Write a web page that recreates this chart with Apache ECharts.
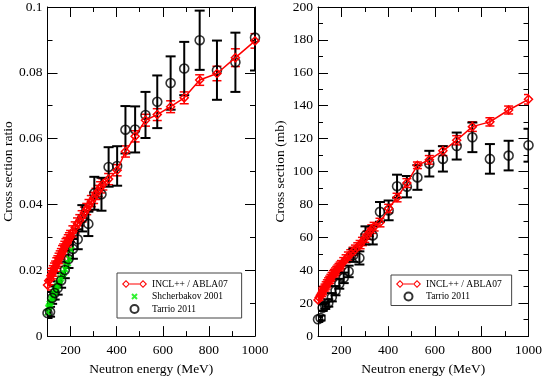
<!DOCTYPE html>
<html>
<head>
<meta charset="utf-8">
<title>INCL++ / ABLA07 vs data</title>
<script src="https://cdn.jsdelivr.net/npm/echarts@6/dist/echarts.min.js"></script>
<style>
  html, body { margin: 0; padding: 0; background: #fff; }
  #chart { width: 545px; height: 381px; }
</style>
</head>
<body>
<div id="chart"></div>
<script>
// Tarrio 2011 (both panels use the same energies)
const tarrioE = [100, 111, 120, 131, 144, 159, 175, 191, 210, 231, 251, 277, 303, 334, 365, 402, 438, 480, 525, 576, 634, 693, 760, 835, 915, 1000]
const tarrioRatio = [0.0070, 0.0074, 0.0116, 0.0131, 0.0146, 0.0169, 0.0201, 0.0234, 0.0265, 0.0294, 0.0358, 0.0341, 0.0434, 0.0431, 0.0514, 0.0517, 0.0627, 0.0628, 0.0672, 0.0712, 0.0769, 0.0813, 0.0899, 0.0808, 0.0832, 0.0907]
const tarrioRatioErr = [0.0015, 0.0015, 0.0018, 0.002, 0.002, 0.0022, 0.0025, 0.0027, 0.003, 0.003, 0.004, 0.0037, 0.005, 0.005, 0.006, 0.006, 0.0072, 0.007, 0.007, 0.008, 0.0081, 0.0081, 0.009, 0.009, 0.009, 0.010]
const tarrioXs = [10.2, 11.0, 17.3, 18.5, 20.1, 23.6, 27.6, 31.8, 35.4, 39.3, 49.1, 47.5, 61.2, 61.2, 75.5, 76.4, 91.1, 90.8, 96.4, 104.8, 107.7, 115.5, 120.8, 107.7, 109.7, 116.0]
const tarrioXsErr = [1.5, 1.5, 2, 2, 2.2, 2.5, 2.8, 3, 3.2, 3.5, 4, 4, 5.5, 5.5, 6, 6, 7, 6.5, 7.5, 7.8, 7.7, 8.2, 9, 9, 9, 10]

// Shcherbakov 2001 (ratio only)
const shchE = [101, 104, 107, 110, 113, 117, 121, 125, 129, 133, 138, 143, 148, 153, 158, 164, 170, 176, 182, 188, 195, 202]
const shchRatio = [0.0072, 0.0085, 0.0090, 0.0098, 0.0104, 0.0112, 0.0118, 0.0126, 0.0132, 0.0138, 0.0146, 0.0152, 0.0160, 0.0168, 0.0176, 0.0184, 0.0192, 0.0203, 0.0212, 0.0222, 0.0235, 0.0262]

// INCL++ / ABLA07
const inclE = [100, 105, 110, 115, 120, 125, 130, 135, 140, 145, 150, 155, 160, 165, 170, 175, 180, 185, 190, 195, 200, 210, 220, 230, 240, 250, 260, 270, 280, 290, 300, 310, 320, 330, 340, 365, 402, 438, 480, 525, 576, 634, 693, 760, 835, 915, 1000]
const inclRatio = [0.0155, 0.0168, 0.0172, 0.0183, 0.0190, 0.0198, 0.0207, 0.0212, 0.0222, 0.0228, 0.0236, 0.0243, 0.0250, 0.0258, 0.0264, 0.0272, 0.0279, 0.0284, 0.0291, 0.0297, 0.0304, 0.0318, 0.0330, 0.0342, 0.0352, 0.0364, 0.0375, 0.0386, 0.0398, 0.0410, 0.0420, 0.0432, 0.0441, 0.0452, 0.0461, 0.0477, 0.0504, 0.0561, 0.0607, 0.0656, 0.0673, 0.0697, 0.0724, 0.0778, 0.0798, 0.0846, 0.0897]
const inclRatioErr = [0.0015, 0.0015, 0.0016, 0.0015, 0.0016, 0.0016, 0.0015, 0.0016, 0.0016, 0.0016, 0.0016, 0.0016, 0.0016, 0.0017, 0.0016, 0.0016, 0.0017, 0.0016, 0.0017, 0.0017, 0.0017, 0.0017, 0.0017, 0.0017, 0.0017, 0.0017, 0.0017, 0.0017, 0.0017, 0.0017, 0.0017, 0.0017, 0.0017, 0.0017, 0.0017, 0.0017, 0.0017, 0.0017, 0.0017, 0.0018, 0.0018, 0.0018, 0.0018, 0.0016, 0.0022, 0.0027, 0.0022]
const inclXs = [22.0, 23.5, 24.8, 26.0, 27.2, 28.3, 29.5, 30.8, 32.0, 33.2, 34.2, 35.3, 36.3, 37.4, 38.2, 39.1, 40.0, 40.8, 41.7, 42.6, 43.5, 45.3, 47.0, 48.6, 50.0, 51.5, 52.8, 54.2, 55.6, 57.5, 59.5, 61.3, 63.2, 65.0, 66.5, 69.0, 77.5, 84.2, 93.0, 103.8, 107.1, 112.6, 119.0, 127.3, 130.2, 137.4, 143.9]
const inclXsErr = [2.0, 2.0, 2.1, 2.0, 2.1, 2.1, 2.1, 2.2, 2.2, 2.2, 2.2, 2.2, 2.3, 2.3, 2.3, 2.3, 2.3, 2.4, 2.4, 2.4, 2.4, 2.4, 2.4, 2.5, 2.5, 2.5, 2.5, 2.5, 2.5, 2.5, 2.5, 2.5, 2.6, 2.6, 2.6, 2.6, 2.6, 2.6, 2.7, 2.0, 2.6, 2.9, 2.8, 2.9, 2.5, 2.4, 2.9]

const xMajor = [200, 400, 600, 800, 1000]
const xMinor = [100, 300, 500, 700, 900]

const FONT = 'Liberation Serif'
const RED = '#ff0000'
const GREEN = '#00ee00'
const chart = echarts.init(document.getElementById('chart'))

function pairs (xs, ys) {
  return xs.map((x, i) => [x, ys[i]])
}
function bars (xs, ys, err) {
  return xs.map((x, i) => [x, ys[i] - err[i], ys[i] + err[i]])
}

function errorBars (name, data, color, capW, lw, xi, yi) {
  return {
    type: 'custom',
    name: name,
    xAxisIndex: xi,
    yAxisIndex: yi,
    clip: true,
    silent: true,
    data: data,
    renderItem: function (params, api) {
      let lo = api.coord([api.value(0), api.value(1)])
      let hi = api.coord([api.value(0), api.value(2)])
      let style = { stroke: color, lineWidth: lw, fill: null }
      return {
        type: 'group',
        children: [
          { type: 'line', shape: { x1: lo[0], y1: lo[1], x2: hi[0], y2: hi[1] }, style: style },
          { type: 'line', shape: { x1: lo[0] - capW / 2, y1: lo[1], x2: lo[0] + capW / 2, y2: lo[1] }, style: style },
          { type: 'line', shape: { x1: hi[0] - capW / 2, y1: hi[1], x2: hi[0] + capW / 2, y2: hi[1] }, style: style }
        ]
      }
    }
  }
}

// four x axes per panel: bottom/top, long ticks and short ticks
function xAxes (g) {
  let common = { type: 'value', gridIndex: g, min: 100, max: 1000, splitLine: { show: false } }
  return [
    Object.assign({}, common, {
      position: 'bottom',
      axisLine: { show: true, lineStyle: { color: '#000', width: 1 } },
      axisTick: { show: true, inside: true, length: 10, customValues: xMajor, lineStyle: { color: '#000' } },
      axisLabel: {
        show: true,
        customValues: xMajor,
        formatter: v => String(v),
        margin: 7,
        color: '#000',
        fontFamily: FONT,
        fontSize: 13.5
      },
      name: 'Neutron energy (MeV)',
      nameLocation: 'middle',
      nameGap: 21,
      nameTextStyle: { color: '#000', fontFamily: FONT, fontSize: 13.5 }
    }),
    Object.assign({}, common, {
      position: 'bottom',
      axisLine: { show: false },
      axisTick: { show: true, inside: true, length: 5, customValues: xMinor, lineStyle: { color: '#000' } },
      axisLabel: { show: false }
    }),
    Object.assign({}, common, {
      position: 'top',
      axisLine: { show: true, lineStyle: { color: '#000', width: 1 } },
      axisTick: { show: true, inside: true, length: 10, customValues: xMajor, lineStyle: { color: '#000' } },
      axisLabel: { show: false }
    }),
    Object.assign({}, common, {
      position: 'top',
      axisLine: { show: false },
      axisTick: { show: true, inside: true, length: 5, customValues: xMinor, lineStyle: { color: '#000' } },
      axisLabel: { show: false }
    })
  ]
}

function yAxes (g, max, interval, title) {
  let common = {
    type: 'value',
    gridIndex: g,
    min: 0,
    max: max,
    interval: interval,
    splitLine: { show: false },
    axisLine: { show: true, lineStyle: { color: '#000', width: 1 } },
    axisTick: { show: true, inside: true, length: 10, lineStyle: { color: '#000' } },
    minorTick: { show: true, splitNumber: 2, length: 5, lineStyle: { color: '#000' } }
  }
  return [
    Object.assign({}, common, {
      position: 'left',
      axisLabel: { margin: 5, color: '#000', fontFamily: FONT, fontSize: 13.5, formatter: v => String(v) },
      name: title,
      nameLocation: 'middle',
      nameGap: 31,
      nameTextStyle: { color: '#000', fontFamily: FONT, fontSize: 13.5 }
    }),
    Object.assign({}, common, {
      position: 'right',
      axisLabel: { show: false }
    })
  ]
}

// legend icon for the model: line with a hollow diamond at each end
const inclIcon = 'path://M8,0L16,8L8,16L0,8ZM8,3L3,8L8,13L13,8ZM16,7L34,7L34,9L16,9ZM42,0L50,8L42,16L34,8ZM42,3L37,8L42,13L47,8Z'
const inclLegend = { name: 'INCL++ / ABLA07', icon: inclIcon, itemStyle: { color: RED, borderWidth: 0 } }
// smaller cross in the legend (the extra moveTo points pad the box)
const shchLegend = { name: 'Shcherbakov 2001', icon: 'path://M-3,-3M13,13M0,0L10,10M10,0L0,10' }

let legendCommon = {
  orient: 'vertical',
  selectedMode: false,
  borderColor: '#444',
  borderWidth: 1,
  itemWidth: 25,
  itemHeight: 8,
  itemGap: 2.5,
  textStyle: { color: '#000', fontFamily: FONT, fontSize: 9.5 }
}

const crossSym = 'path://M0,0L10,10M10,0L0,10'

let option = {
  animation: false,
  backgroundColor: '#fff',
  grid: [
    { left: 43, top: 5, width: 212, height: 343 },
    { left: 318, top: 5, width: 211, height: 343 }
  ],
  xAxis: xAxes(0).concat(xAxes(1)),
  yAxis: yAxes(0, 0.1, 0.02, 'Cross section ratio').concat(yAxes(1, 200, 20, 'Cross section (mb)')),
  legend: [
    Object.assign({}, legendCommon, {
      left: 117,
      top: 273,
      padding: [6, 14, 4, 5],
      data: [inclLegend, shchLegend, 'Tarrio 2011']
    }),
    Object.assign({}, legendCommon, {
      left: 391,
      top: 275,
      padding: [4, 10, 4, 5],
      data: [inclLegend, 'Tarrio 2011']
    })
  ],
  series: [
    // left panel
    errorBars('inclErrL', bars(inclE, inclRatio, inclRatioErr), RED, 9, 1.5, 0, 0),
    {
      type: 'line',
      name: 'INCL++ / ABLA07',
      xAxisIndex: 0,
      yAxisIndex: 0,
      data: pairs(inclE, inclRatio),
      symbol: 'diamond',
      symbolSize: 8,
      color: RED,
      lineStyle: { color: RED, width: 1.5 },
      itemStyle: { color: 'rgba(0,0,0,0)', borderColor: RED, borderWidth: 1.5 }
    },
    {
      type: 'scatter',
      name: 'Shcherbakov 2001',
      xAxisIndex: 0,
      yAxisIndex: 0,
      data: pairs(shchE, shchRatio),
      symbol: crossSym,
      symbolSize: 6,
      color: GREEN,
      itemStyle: { color: 'rgba(0,0,0,0)', borderColor: GREEN, borderWidth: 2 }
    },
    errorBars('tarrioErrL', bars(tarrioE, tarrioRatio, tarrioRatioErr), '#000', 10, 2, 0, 0),
    {
      type: 'scatter',
      name: 'Tarrio 2011',
      xAxisIndex: 0,
      yAxisIndex: 0,
      data: pairs(tarrioE, tarrioRatio),
      symbol: 'circle',
      symbolSize: 9,
      color: '#000',
      itemStyle: { color: 'rgba(0,0,0,0)', borderColor: '#000', borderWidth: 1.6 }
    },
    // right panel
    errorBars('inclErrR', bars(inclE, inclXs, inclXsErr), RED, 9, 1.5, 4, 2),
    {
      type: 'line',
      name: 'INCL++ / ABLA07',
      xAxisIndex: 4,
      yAxisIndex: 2,
      data: pairs(inclE, inclXs),
      symbol: 'diamond',
      symbolSize: 8,
      color: RED,
      lineStyle: { color: RED, width: 1.5 },
      itemStyle: { color: 'rgba(0,0,0,0)', borderColor: RED, borderWidth: 1.5 }
    },
    errorBars('tarrioErrR', bars(tarrioE, tarrioXs, tarrioXsErr), '#000', 10, 2, 4, 2),
    {
      type: 'scatter',
      name: 'Tarrio 2011',
      xAxisIndex: 4,
      yAxisIndex: 2,
      data: pairs(tarrioE, tarrioXs),
      symbol: 'circle',
      symbolSize: 9,
      color: '#000',
      itemStyle: { color: 'rgba(0,0,0,0)', borderColor: '#000', borderWidth: 1.6 }
    }
  ]
}

chart.setOption(option)
</script>
</body>
</html>
